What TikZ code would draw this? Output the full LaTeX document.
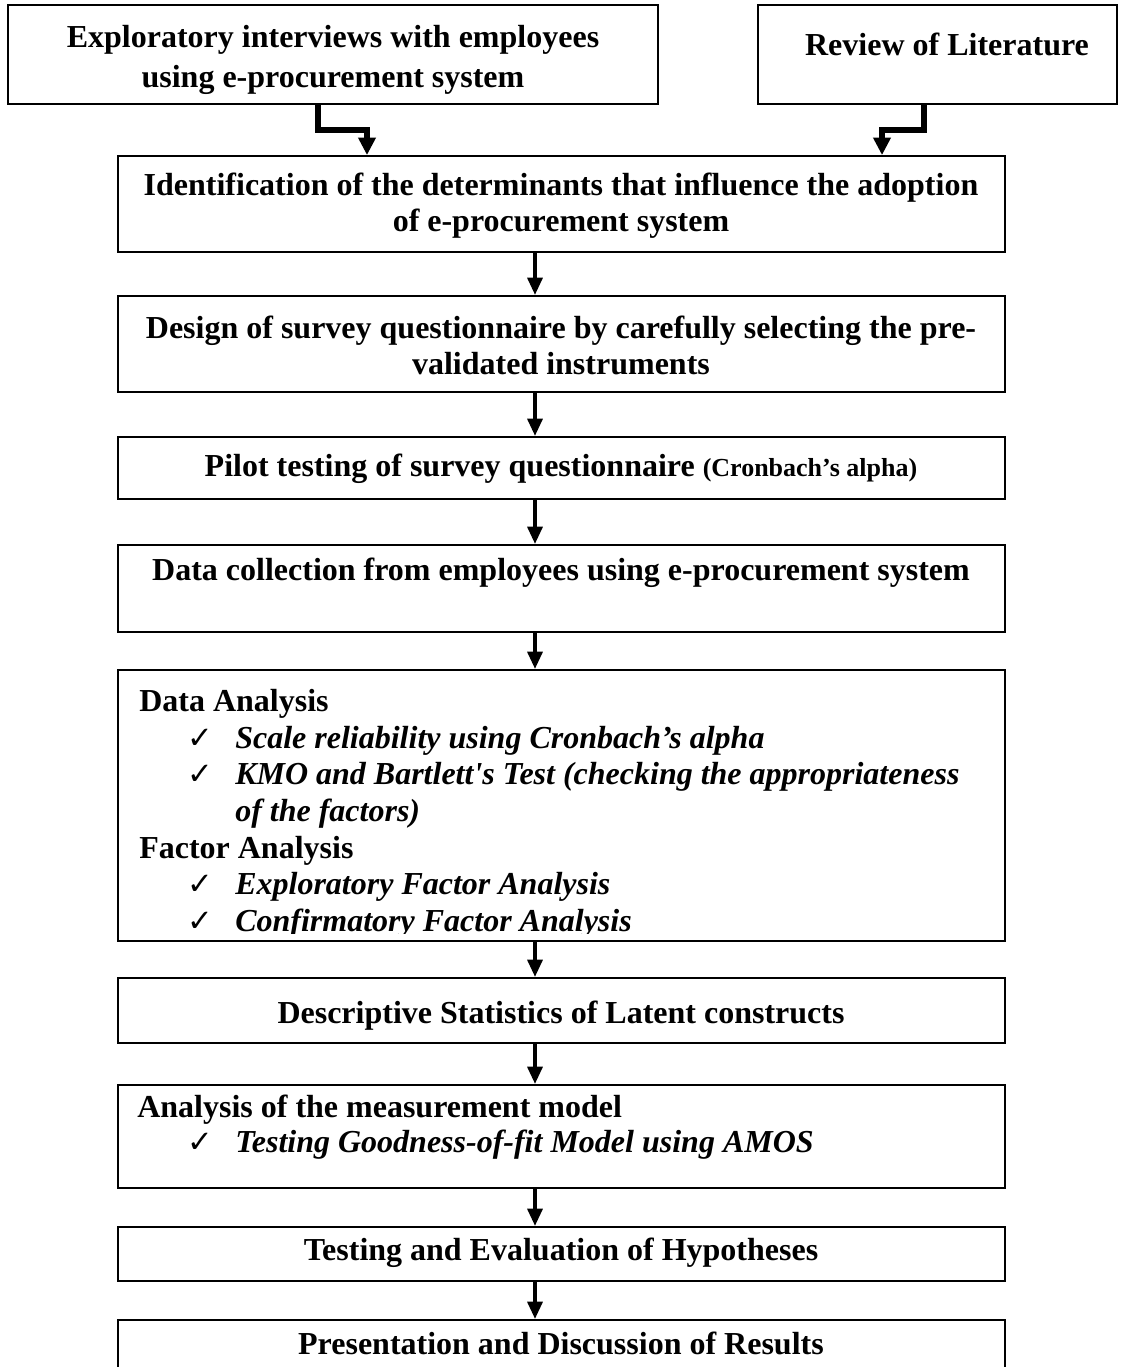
\documentclass[tikz,border=0pt]{standalone}
\usepackage{fontspec}
\setmainfont{Liberation Serif}[Ligatures=TeXOff]
\newfontfamily\symfont{DejaVu Sans}
\usetikzlibrary{fit,arrows.meta}

\begin{document}
\begin{tikzpicture}[x=0.75pt,y=-0.75pt,
  box/.style={draw, line width=1.4pt, inner sep=0pt},
  txt/.style={font=\fontsize{24}{27}\selectfont\bfseries, align=center, inner sep=0pt},
  item/.style={font=\fontsize{24}{27}\selectfont\bfseries\itshape, inner sep=0pt, anchor=base west},
  head/.style={font=\fontsize{24}{27}\selectfont\bfseries, inner sep=0pt, anchor=base west},
  tick/.style={font=\symfont\fontsize{23}{26}\selectfont, inner sep=0pt, anchor=base west},
  flow/.style={line width=3pt, -{Triangle[width=11pt,length=13pt]}},
  elbow/.style={line width=3.8pt, line join=miter, -{Triangle[width=12.5pt,length=13pt]}}]

\useasboundingbox (0,0) rectangle (1130,1367);

% boxes
\node[box, fit={(8,5) (658,104)}] (interviews) {};
\node[box, fit={(758,5) (1117,104)}] (literature) {};
\node[box, fit={(118,156) (1005,252)}] (determinants) {};
\node[box, fit={(118,296) (1005,392)}] (design) {};
\node[box, fit={(118,437) (1005,499)}] (pilot) {};
\node[box, fit={(118,545) (1005,632)}] (collection) {};
\node[box, fit={(118,670) (1005,941)}] (analysis) {};
\node[box, fit={(118,978) (1005,1043)}] (descriptive) {};
\node[box, fit={(118,1085) (1005,1188)}] (measurement) {};
\node[box, fit={(118,1227) (1005,1281)}] (hypotheses) {};
\node[box, fit={(118,1320) (1005,1420)}] (results) {};

% texts
\node[txt, font=\fontsize{24}{30}\selectfont\bfseries] (t-interviews) at (333,60)
  {Exploratory interviews with employees\\using e-procurement system};
\node[txt] (t-literature) at (947,44) {Review of Literature};
\node[txt] (t-determinants) at (561,206)
  {Identification of the determinants that influence the adoption\\of e-procurement system};
\node[txt] (t-design) at (561,345)
  {Design of survey questionnaire by carefully selecting the pre-\\validated instruments};
\node[txt] (t-pilot) at (561,469)
  {Pilot testing of survey questionnaire {\fontsize{19.5}{22}\selectfont(Cronbach’s alpha)}};
\node[txt] (t-collection) at (561,573)
  {Data collection from employees using e-procurement system};

\node[head] (h-data) at (139,711) {Data Analysis};
\node[tick] (k1) at (187,748) {✓};
\node[item] (i1) at (235,748) {Scale reliability using Cronbach’s alpha};
\node[tick] (k2) at (187,784) {✓};
\node[item] (i2) at (235,784) {KMO and Bartlett's Test (checking the appropriateness};
\node[item] (i2b) at (235,821) {of the factors)};
\node[head] (h-factor) at (139,858) {Factor Analysis};
\node[tick] (k3) at (187,894) {✓};
\node[item] (i3) at (235,894) {Exploratory Factor Analysis};
% the last line is cut off just below its baseline
\begin{scope}
  \clip (118,900) rectangle (1005,933);
  \node[tick] (k4) at (187,931) {✓};
  \node[item] (i4) at (235,931) {Confirmatory Factor Analysis};
\end{scope}

\node[txt] (t-descriptive) at (561,1016) {Descriptive Statistics of Latent constructs};
\node[head] (h-measure) at (137,1117) {Analysis of the measurement model};
\node[tick] (k5) at (187,1152) {✓};
\node[item] (i5) at (235,1152) {Testing Goodness-of-fit Model using AMOS};
\node[txt] (t-hypotheses) at (561,1253) {Testing and Evaluation of Hypotheses};
\node[txt] (t-results) at (561,1343) {Presentation and Discussion of Results};

% connectors
\coordinate (lx) at (318,0);
\coordinate (ly) at (0,130);
\coordinate (lx2) at (367,0);
\coordinate (rx) at (924,0);
\coordinate (rx2) at (882,0);
\coordinate (mx) at (535,0);

\draw[elbow] (interviews.south -| lx) -- (lx |- ly) -- (lx2 |- ly) -- (determinants.north -| lx2);
\draw[elbow] (literature.south -| rx) -- (rx |- ly) -- (rx2 |- ly) -- (determinants.north -| rx2);

\draw[flow] (determinants.south -| mx) -- (design.north -| mx);
\draw[flow] (design.south -| mx) -- (pilot.north -| mx);
\draw[flow] (pilot.south -| mx) -- (collection.north -| mx);
\draw[flow] (collection.south -| mx) -- (analysis.north -| mx);
\draw[flow] (analysis.south -| mx) -- (descriptive.north -| mx);
\draw[flow] (descriptive.south -| mx) -- (measurement.north -| mx);
\draw[flow] (measurement.south -| mx) -- (hypotheses.north -| mx);
\draw[flow] (hypotheses.south -| mx) -- (results.north -| mx);
\end{tikzpicture}
\end{document}
